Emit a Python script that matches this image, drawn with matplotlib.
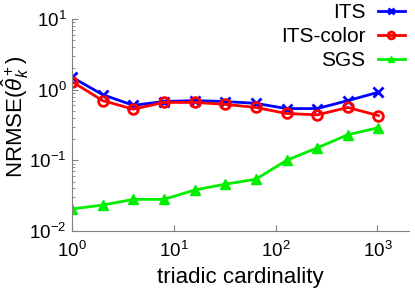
import numpy as np
import matplotlib.pyplot as plt

plt.rcParams['font.family'] = ['Liberation Sans', 'DejaVu Sans']
plt.rcParams['mathtext.fontset'] = 'custom'
plt.rcParams['mathtext.rm'] = 'Liberation Sans'
plt.rcParams['mathtext.it'] = 'Liberation Sans:italic'

# datos
cardinalidad = [1, 2, 4, 8, 16, 32, 64, 128, 256, 512, 1024]
its = [1.5, 0.85, 0.6, 0.68, 0.70, 0.68, 0.64, 0.54, 0.54, 0.70, 0.92]
its_color = [1.3, 0.70, 0.53, 0.66, 0.66, 0.62, 0.56, 0.46, 0.44, 0.56, 0.43]
sgs = [0.0205, 0.0233, 0.028, 0.028, 0.038, 0.046, 0.054, 0.10, 0.15, 0.23, 0.29]

fig = plt.figure(figsize=(4.15, 2.91), dpi=100)
ax = fig.add_axes([72/415, 1 - 231/291, 337/415, 212/291])

ax.plot(cardinalidad, its, color='blue', marker='x', ms=7, mew=2, lw=2, label='ITS')
ax.plot(cardinalidad, its_color, color='red', marker='o', ms=7, mew=2, mfc='none', lw=2, label='ITS-color')
ax.plot(cardinalidad, sgs, color='#00ee00', marker='^', ms=7, lw=2, label='SGS')

ax.set_xscale('log')
ax.set_yscale('log')
ax.set_xlim(1, 10**3.31)
ax.set_ylim(1e-2, 1e1)

for s in ['top', 'right']:
    ax.spines[s].set_visible(False)
for s in ['left', 'bottom']:
    ax.spines[s].set_color('gray')
ax.tick_params(which='both', direction='in', colors='gray', labelcolor='black', labelsize=13.5)
ax.tick_params(which='major', length=4)
ax.tick_params(which='minor', length=2)
ax.tick_params(axis='x', which='minor', length=0)
ax.tick_params(axis='x', pad=7)
ax.tick_params(axis='y', pad=4)

ax.set_xlabel('triadic cardinality', fontsize=16, va='center')
ax.set_ylabel(r'NRMSE$(\hat{\theta}_k^+)$', fontsize=16, va='center')
ax.xaxis.set_label_coords(0.5, (231 - 277) / 212)
ax.yaxis.set_label_coords((15 - 72) / 337, (231 - 117) / 212)

ax.legend(loc='upper right', bbox_to_anchor=(405/415, 1 - 3/291), bbox_transform=fig.transFigure,
          frameon=False, markerfirst=False, fontsize=15, handlelength=1.3, handletextpad=0.6,
          labelspacing=0.25, borderpad=0, borderaxespad=0, markerscale=0.7)

plt.savefig('out.png', dpi=100)
